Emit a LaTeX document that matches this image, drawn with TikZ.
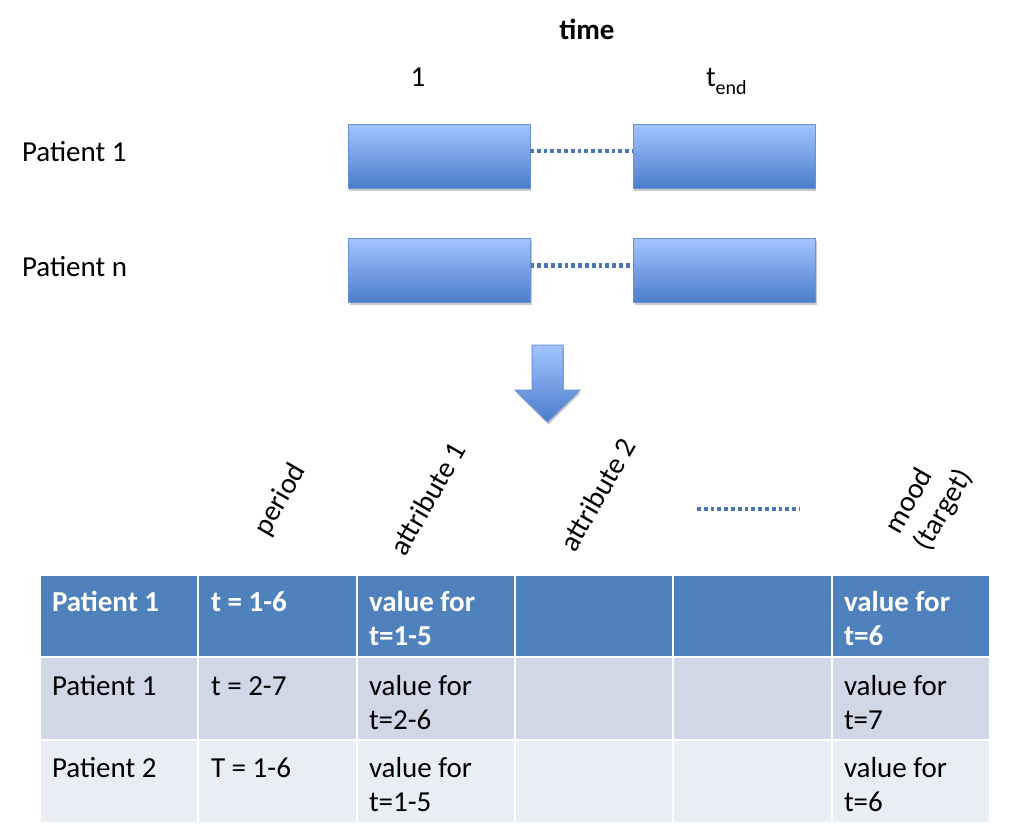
\documentclass[tikz,border=0pt]{standalone}
\usepackage{fontspec}
\setmainfont{Carlito}
\usetikzlibrary{shadows}
\definecolor{accent}{HTML}{4F81BD}
\definecolor{boxtop}{HTML}{A3C4FF}
\definecolor{boxbot}{HTML}{4A7DCB}
\definecolor{boxedge}{HTML}{6A93D4}
\definecolor{bandA}{HTML}{D0D8E8}
\definecolor{bandB}{HTML}{E9EDF4}
\definecolor{dotcol}{HTML}{4A76B5}
\newcommand{\twoline}[2]{\begin{tabular}[t]{@{}l@{}}#1\\#2\end{tabular}}
\begin{document}
\begin{tikzpicture}[x=1pt,y=-1pt,
  every node/.style={font=\fontsize{29}{34}\selectfont, inner sep=0pt, outer sep=0pt},
  tbox/.style={draw=boxedge, line width=1pt, top color=boxtop, bottom color=boxbot,
    minimum width=182pt, minimum height=64pt,
    drop shadow={opacity=0.3, shadow xshift=1pt, shadow yshift=-2.5pt, fill=black!70}},
  dotline/.style={draw=dotcol, line width=4.5pt, dash pattern=on 3.8pt off 3pt},
  cell/.style={draw=white, line width=2pt, minimum width=158.33pt, minimum height=82.8pt, anchor=north west},
  txt/.style={anchor=base west},
  rottxt/.style={rotate=60, anchor=base west},
  hdrtxt/.style={anchor=base west, text=white, font=\bfseries\fontsize{29}{34}\selectfont},
]
\useasboundingbox (0,0) rectangle (1018,838);

% top labels
\node[anchor=base, font=\bfseries\fontsize{29}{34}\selectfont] (time) at (587,39) {time};
\node[anchor=base] (one) at (418,86) {1};
\node[anchor=base west] (tend) at (706,86) {t\raisebox{-8pt}{\fontsize{20}{20}\selectfont end}};
\node[txt] (lp1) at (22,161) {Patient 1};
\node[txt] (lpn) at (22,276) {Patient n};

% time boxes
\node[tbox] (b11) at (439,156) {};
\node[tbox] (b12) at (724,156) {};
\node[tbox] (b21) at (439.5,270.5) {};
\node[tbox] (b22) at (724.5,270.5) {};
\draw[dotline] ([yshift=5pt]b11.east) -- ([yshift=5pt]b12.west);
\draw[dotline] ([yshift=5pt]b21.east) -- ([yshift=5pt]b22.west);

% down arrow
\shade[draw=boxedge, line width=1pt, top color=boxtop, bottom color=boxbot,
  drop shadow={opacity=0.3, shadow xshift=1pt, shadow yshift=-2.5pt, fill=black!70}]
  (532,345) -- (563,345) -- (563,390) -- (580,390) -- (547.5,422) -- (515,390) -- (532,390) -- cycle;

% rotated column labels
\node[rottxt] (lperiod) at (268,537) {period};
\node[rottxt] (lattr1) at (405,557) {attribute 1};
\node[rottxt] (lattr2) at (575,553) {attribute 2};
\node[rottxt] (lmood) at (899,535) {\twoline{mood}{(target)}};
\coordinate (d1) at (697,509);
\coordinate (d2) at (800,509);
\draw[dotline] (d1) -- (d2);

% table cells
\foreach \r/\col in {0/accent,1/bandA,2/bandB}{
  \foreach \c in {0,...,5}{
    \node[cell, fill=\col] (c\r\c) at ({40+\c*158.33},{574.5+\r*82.8}) {};
  }
}

% header row text
\node[hdrtxt] (h1) at (52,611) {Patient 1};
\node[hdrtxt] (h2) at (211,611) {t = 1-6};
\node[hdrtxt] (h3) at (369,611) {\twoline{value for}{t=1-5}};
\node[hdrtxt] (h6) at (844,611) {\twoline{value for}{t=6}};

% row 2
\node[txt] (r21) at (52,695) {Patient 1};
\node[txt] (r22) at (211,695) {t = 2-7};
\node[txt] (r23) at (369,695) {\twoline{value for}{t=2-6}};
\node[txt] (r26) at (844,695) {\twoline{value for}{t=7}};

% row 3
\node[txt] (r31) at (52,777) {Patient 2};
\node[txt] (r32) at (211,777) {T = 1-6};
\node[txt] (r33) at (369,777) {\twoline{value for}{t=1-5}};
\node[txt] (r36) at (844,777) {\twoline{value for}{t=6}};
\end{tikzpicture}
\end{document}
